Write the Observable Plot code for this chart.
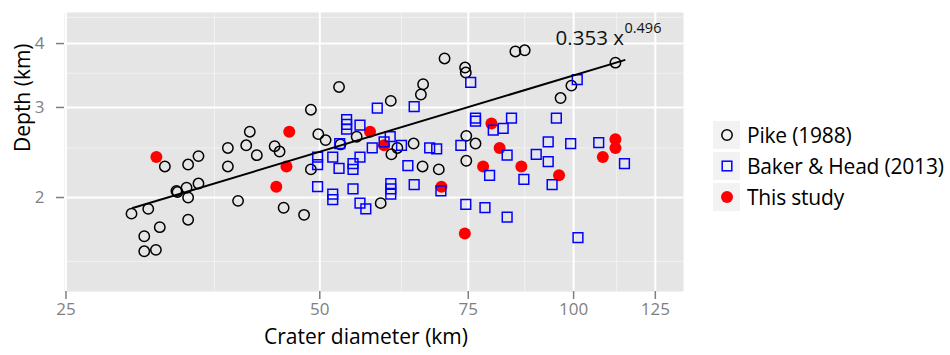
<!DOCTYPE html>
<html>
<head>
<meta charset="utf-8">
<script src="https://cdn.jsdelivr.net/npm/d3@7"></script>
<script src="https://cdn.jsdelivr.net/npm/@observablehq/plot@0.6"></script>
<style>
  html, body { margin: 0; padding: 0; background: white; }
  #wrap { position: relative; width: 950px; height: 355px; font-family: "Open Sans", sans-serif; }
  #legend { position: absolute; left: 713px; top: 121px; }
  .row { display: flex; align-items: center; height: 28px; margin-bottom: 3px; }
  .key { width: 27px; height: 28px; background: #F2F2F2; display: flex; align-items: center; justify-content: center; }
  .lab { margin-left: 7px; font-size: 21px; color: #000; white-space: nowrap; letter-spacing: -0.2px; }
</style>
</head>
<body>
<div id="wrap"><div id="chart"></div><div id="legend"></div></div>
<script>
// ---- data ----
const seriesNames = ["Pike (1988)", "Baker & Head (2013)", "This study"];

const pikeDiameter = [52.7, 48.8, 41.3, 49.8, 50.8, 40.9, 38.9, 44.2, 44.8, 42.1, 35.9, 34.9, 32.75, 38.9,
  55.3, 52.9, 48.8, 35.9, 34.75, 33.8, 33.9, 34.9, 40.0, 31.3, 29.9, 45.3, 47.9, 34.9, 32.3, 30.96, 30.96, 31.96,
  59.05, 70.3, 74.35, 74.5, 85.3, 87.5, 112.1, 99.4, 96.5, 66.3, 65.9, 60.7, 74.6, 76.5, 64.6, 61.8, 60.8,
  74.6, 66.2, 69.2];
const pikeDepth = [3.29, 2.97, 2.69, 2.66, 2.59, 2.53, 2.50, 2.52, 2.46, 2.42, 2.41, 2.32, 2.30, 2.30,
  2.63, 2.54, 2.27, 2.13, 2.09, 2.06, 2.05, 2.00, 1.97, 1.90, 1.86, 1.91, 1.85, 1.81, 1.75, 1.68, 1.57, 1.58,
  1.95, 3.74, 3.59, 3.51, 3.86, 3.88, 3.67, 3.31, 3.13, 3.33, 3.18, 3.09, 2.64, 2.55, 2.55, 2.50, 2.43,
  2.36, 2.30, 2.27];

const bakerDiameter = [58.5, 53.8, 53.8, 53.8, 55.8, 52.8, 49.7, 49.7, 51.8, 55.8, 57.7, 54.75, 54.75, 52.7,
  49.7, 51.8, 51.8, 54.75, 55.8, 56.7, 75.5, 64.7, 76.5, 76.5, 84.4, 95.4, 80.3, 82.5, 93.3, 99.2, 107.1,
  93.3, 90.3, 83.4, 73.5, 67.5, 68.8, 60.6, 59.6, 62.5, 63.6, 64.7, 60.7, 60.7, 60.7, 69.6, 79.5, 87.3,
  94.3, 114.9, 74.5, 78.5, 83.4, 101.2, 101.0];
const bakerDepth = [2.99, 2.84, 2.78, 2.72, 2.77, 2.55, 2.40, 2.32, 2.40, 2.40, 2.50, 2.33, 2.27, 2.28,
  2.10, 2.03, 1.98, 2.08, 1.95, 1.90, 3.36, 3.01, 2.86, 2.82, 2.86, 2.86, 2.71, 2.73, 2.57, 2.55, 2.56,
  2.35, 2.43, 2.42, 2.53, 2.50, 2.49, 2.63, 2.57, 2.53, 2.31, 2.12, 2.13, 2.08, 2.03, 2.06, 2.21, 2.17,
  2.12, 2.33, 1.94, 1.91, 1.83, 1.67, 3.40];

const studyDiameter = [32.0, 46.0, 45.65, 44.4, 57.35, 59.6, 79.9, 81.7, 78.1, 86.7, 96.1, 69.7, 74.3, 112.1, 112.1, 108.3];
const studyDepth = [2.40, 2.69, 2.30, 2.10, 2.69, 2.53, 2.79, 2.50, 2.30, 2.30, 2.21, 2.10, 1.70, 2.60, 2.50, 2.40];

// power-law fit shown on the chart: depth = 0.353 * D^0.496, over the data range
const fitCoef = 0.353, fitExp = 0.496;
const fitRange = [30.0, 114.9];
const fitLabel = ["0.353 x", "0.496"];

const xTicks = [25, 50, 75, 100, 125];
const xMinor = [37.5, 62.5, 87.5, 112.5];
const yTicks = [2, 3, 4];
const yMinor = [1.5, 2.5, 3.5, 4.5];

// ---- tables ----
const pike = pikeDiameter.map((d, i) => ({d, h: pikeDepth[i]}));
const baker = bakerDiameter.map((d, i) => ({d, h: bakerDepth[i]}));
const study = studyDiameter.map((d, i) => ({d, h: studyDepth[i]}));
const fit = fitRange.map(d => ({d, h: fitCoef * Math.pow(d, fitExp)}));

const grey = "#7F7F7F";
const chart = Plot.plot({
  width: 690, height: 355,
  marginLeft: 64, marginRight: 7, marginTop: 12, marginBottom: 64,
  x: {type: "log", domain: [24.9, 135]},
  y: {type: "log", domain: [1.31, 4.6]},
  style: {fontFamily: "'Open Sans', sans-serif", background: "white"},
  marks: [
    Plot.frame({fill: "#E5E5E5", stroke: null}),
    Plot.gridX(xMinor, {stroke: "#F2F2F2", strokeOpacity: 1, strokeWidth: 1}),
    Plot.gridY(yMinor, {stroke: "#F2F2F2", strokeOpacity: 1, strokeWidth: 1}),
    Plot.gridX(xTicks, {stroke: "white", strokeOpacity: 1, strokeWidth: 2}),
    Plot.gridY(yTicks, {stroke: "white", strokeOpacity: 1, strokeWidth: 2}),
    Plot.axisX(xTicks, {tickSize: 8, tickPadding: 3, stroke: grey, strokeWidth: 1.5, fill: grey, fontSize: 17, tickFormat: d => d, label: null}),
    Plot.axisY(yTicks, {tickSize: 8, tickPadding: 12, stroke: grey, strokeWidth: 1.5, fill: grey, fontSize: 17, tickFormat: d => d, label: null}),
    Plot.dot(pike, {x: "d", y: "h", symbol: "circle", r: 5.2, stroke: "black", strokeWidth: 1.5, fill: "none"}),
    Plot.dot(study, {x: "d", y: "h", symbol: "circle", r: 6, fill: "#FF0000", stroke: "none"}),
    Plot.dot(baker, {x: "d", y: "h", symbol: "square", r: 5.5, stroke: "#0000FF", strokeWidth: 1.5, fill: "none"}),
    Plot.line(fit, {x: "d", y: "h", stroke: "black", strokeWidth: 2}),
    Plot.text([fitLabel[0]], {x: 95.2, y: 4.09, text: d => d, textAnchor: "start", fontSize: 20.5, fill: "#111", letterSpacing: -0.5}),
    Plot.text([fitLabel[1]], {x: 114.9, y: 4.28, text: d => d, textAnchor: "start", fontSize: 14.5, fill: "#111"}),
    Plot.text(["Crater diameter (km)"], {frameAnchor: "bottom", dy: 52, dx: -8, text: d => d, fontSize: 21, fill: "#000", letterSpacing: 0.5}),
    Plot.text(["Depth (km)"], {frameAnchor: "left", dx: -41, rotate: -90, text: d => d, fontSize: 21, fill: "#000", letterSpacing: 0.5})
  ]
});
document.getElementById("chart").appendChild(chart);

// legend
const legend = document.getElementById("legend");
const keySvgs = [
  '<svg width="14" height="14"><circle cx="7" cy="7" r="5.2" fill="none" stroke="black" stroke-width="1.5"/></svg>',
  '<svg width="14" height="14"><rect x="2.2" y="2.2" width="9.6" height="9.6" fill="none" stroke="#0000FF" stroke-width="1.5"/></svg>',
  '<svg width="14" height="14"><circle cx="7" cy="7" r="6" fill="#FF0000"/></svg>'
];
seriesNames.forEach((name, i) => {
  const row = document.createElement("div");
  row.className = "row";
  row.innerHTML = '<div class="key">' + keySvgs[i] + '</div>';
  const lab = document.createElement("span");
  lab.className = "lab";
  lab.textContent = name;
  row.appendChild(lab);
  legend.appendChild(row);
});
</script>
</body>
</html>
